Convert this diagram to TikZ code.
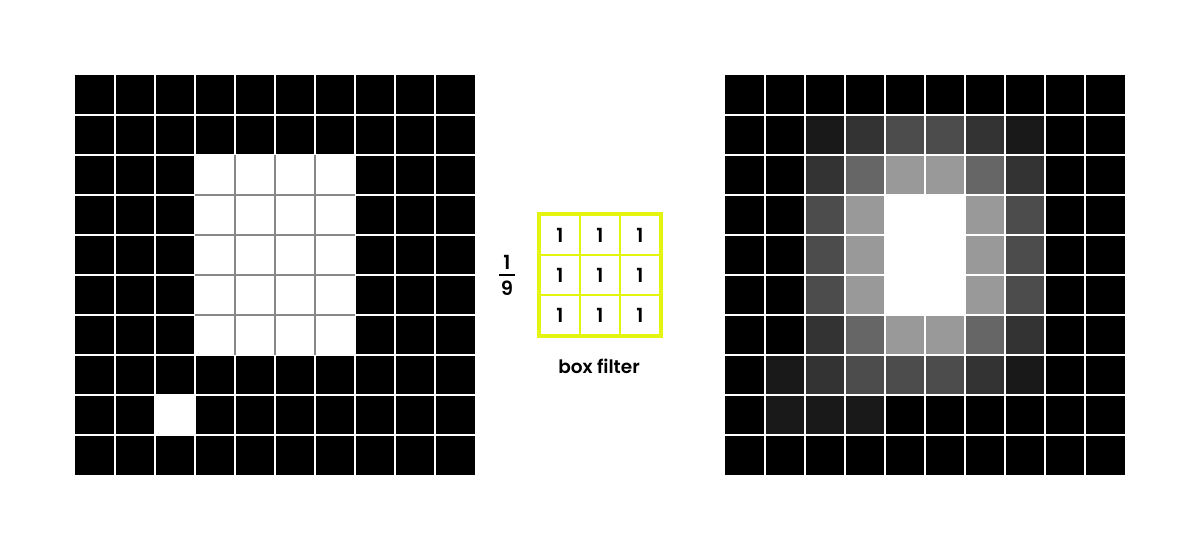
\documentclass[tikz,border=0pt]{standalone}
\usepackage{fontspec}
\setmainfont{Poppins SemiBold}
\definecolor{kcol}{HTML}{E3F40E}
\definecolor{gline}{HTML}{888888}
\begin{document}
\begin{tikzpicture}[x=1pt,y=-1pt,
  gridw/.style={white,line width=1.3pt},
  gridg/.style={gline,line width=1.3pt},
  kbox/.style={draw=kcol,line width=2pt,minimum size=40pt,inner sep=0pt,anchor=center,font=\fontsize{19.5}{22}\selectfont},
  lbl/.style={inner sep=0pt,font=\fontsize{18.5}{22}\selectfont}]
\useasboundingbox (0,0) rectangle (1200,550);
% ---------- left image ----------
\fill[black] (75,75) rectangle (475,475);
\fill[white] (195,155) rectangle (355,355);
\fill[white] (155,395) rectangle (195,435);
\foreach \i in {1,...,9}{
  \draw[gridw] (75+40*\i,75) -- (75+40*\i,475);
  \draw[gridw] (75,75+40*\i) -- (475,75+40*\i);
}
\foreach \i in {1,2,3}{
  \draw[gridg] (195+40*\i,155) -- (195+40*\i,355);
}
\foreach \i in {1,...,4}{
  \draw[gridg] (195,155+40*\i) -- (355,155+40*\i);
}
% ---------- right image ----------
\foreach \rowvals [count=\r from 0] in {
  {0,0,0,0,0,0,0,0,0,0},
  {0,0,1,2,3,3,2,1,0,0},
  {0,0,2,4,6,6,4,2,0,0},
  {0,0,3,6,9,9,6,3,0,0},
  {0,0,3,6,9,9,6,3,0,0},
  {0,0,3,6,9,9,6,3,0,0},
  {0,0,2,4,6,6,4,2,0,0},
  {0,1,2,3,3,3,2,1,0,0},
  {0,1,1,1,0,0,0,0,0,0},
  {0,0,0,0,0,0,0,0,0,0}}{
  \foreach \v [count=\c from 0] in \rowvals {
    \pgfmathtruncatemacro\pct{\v==9 ? 100 : 10*\v}
    \fill[white!\pct!black] (725+40*\c,75+40*\r) rectangle ++(40,40);
  }
}
\foreach \i in {1,...,9}{
  \draw[gridw] (725+40*\i,75) -- (725+40*\i,475);
  \draw[gridw] (725,75+40*\i) -- (1125,75+40*\i);
}
% ---------- kernel ----------
\foreach \r in {0,1,2}{
  \foreach \c in {0,1,2}{
    \node[kbox] (k\r\c) at (560+40*\c,235+40*\r) {1};
  }
}
\draw[kcol,line width=3.2pt] (k00.north west) rectangle (k22.south east);
\node[lbl,font=\fontsize{19.5}{22}\selectfont] (num) at (507,262) {1};
\node[lbl,font=\fontsize{19.5}{22}\selectfont] (den) at (507,288) {9};
\coordinate (barl) at (499,275);
\coordinate (barr) at (515,275);
\draw[black,line width=1.8pt] (barl) -- (barr);
\node[lbl] (cap) at (599,366) {box filter};
\end{tikzpicture}
\end{document}
